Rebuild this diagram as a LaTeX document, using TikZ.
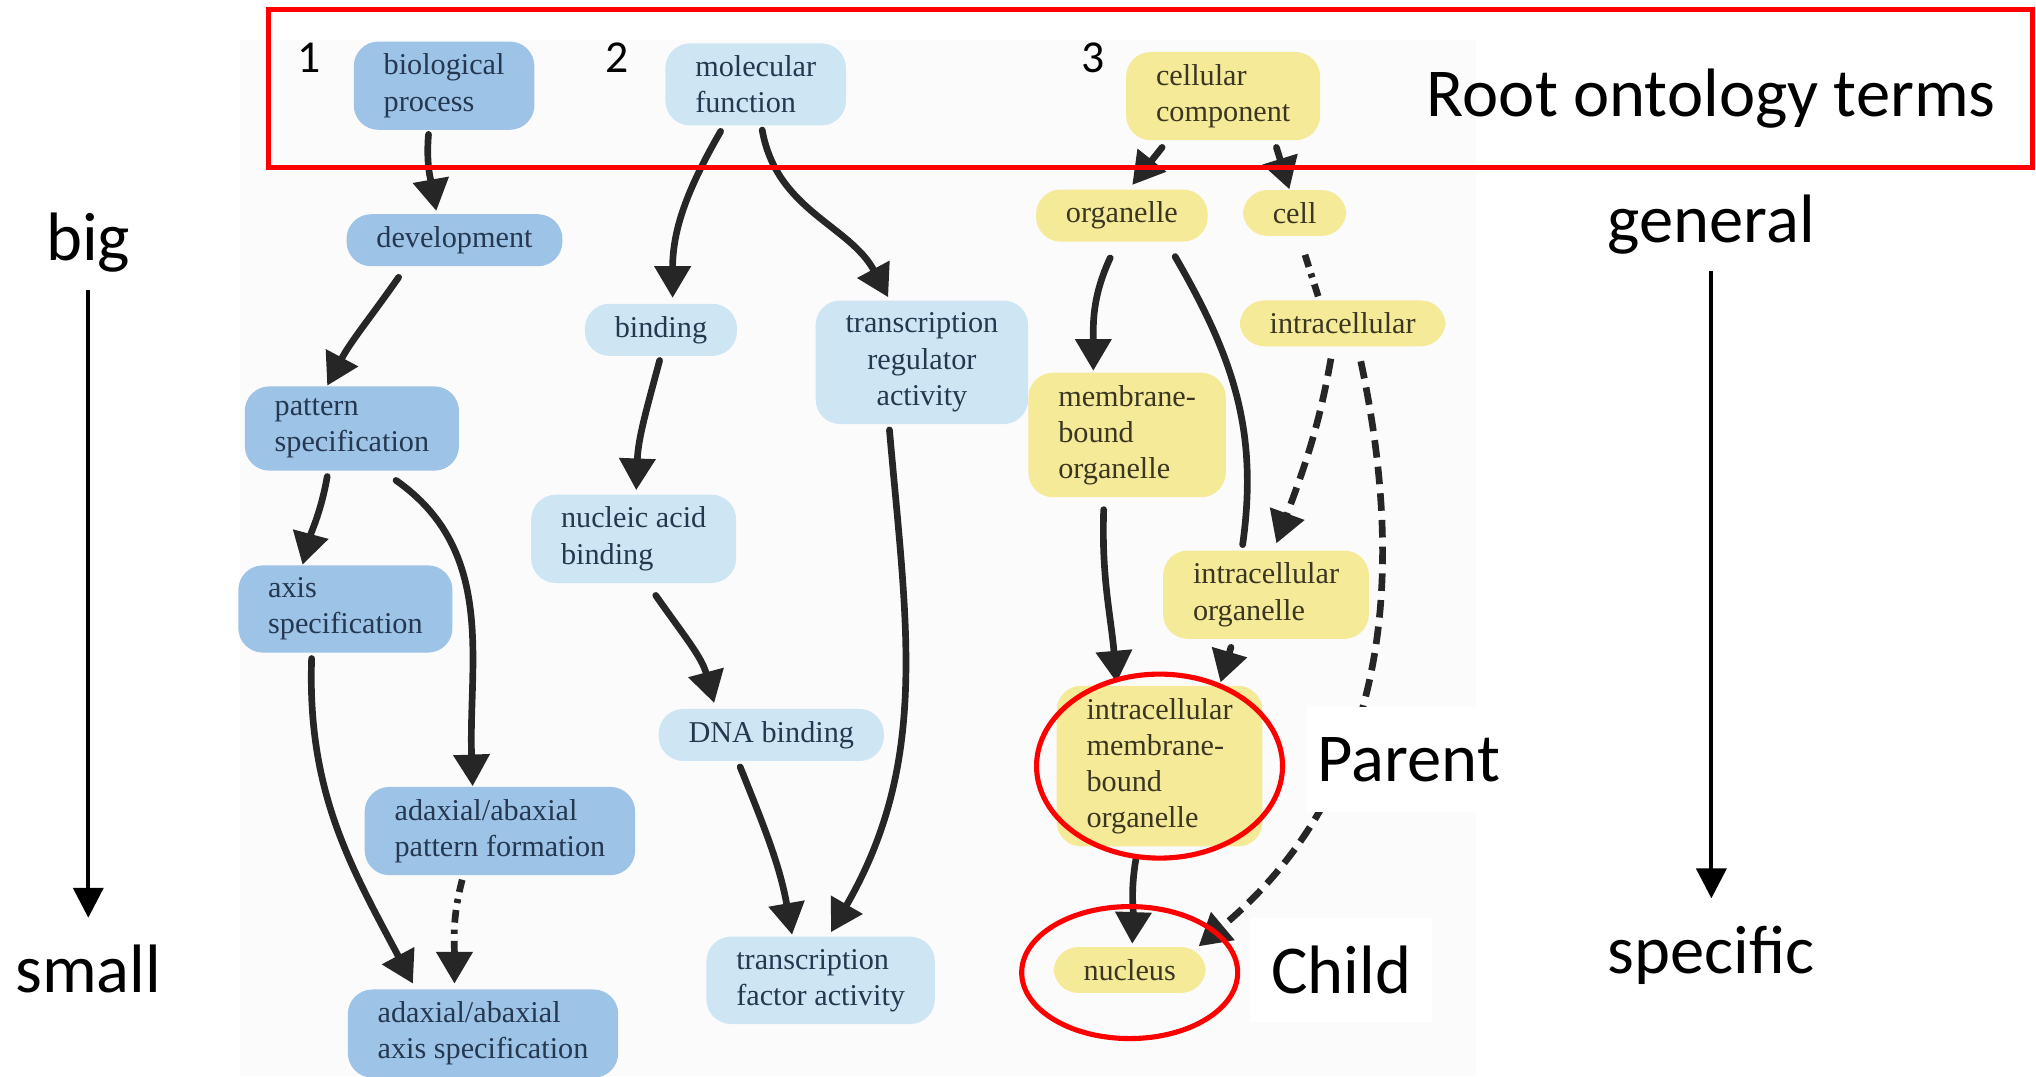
\documentclass[tikz,border=0pt]{standalone}
\usepackage{fontspec}
\setmainfont{Liberation Serif}
\newfontfamily\slidefont{Carlito}
\usepackage{tikz}
\usetikzlibrary{arrows.meta,calc}

\definecolor{bpfill}{RGB}{157,195,230}
\definecolor{mffill}{RGB}{206,230,243}
\definecolor{ccfill}{RGB}{245,234,152}
\definecolor{bptext}{RGB}{38,56,80}
\definecolor{cctext}{RGB}{58,54,34}
\definecolor{edgecol}{RGB}{38,38,38}
\definecolor{insetbg}{RGB}{251,251,252}

\tikzset{
  term/.style={rounded corners=7pt, inner xsep=8.5pt, inner ysep=3.5pt, align=left,
    font=\fontsize{8.6}{10.3}\selectfont},
  bpterm/.style={term, fill=bpfill, text=bptext},
  mfterm/.style={term, fill=mffill, text=bptext},
  ccterm/.style={term, fill=ccfill, text=cctext},
  link/.style={line width=1.9pt, draw=edgecol},
  isa/.style={link, line cap=round, -{Triangle[width=10pt,length=9pt]}},
  dashdot/.style={link, dash pattern=on 3.6pt off 2pt on 1.2pt off 2pt},
  regul/.style={dashdot, -{Triangle[width=10pt,length=9pt]}},
  partof/.style={link, dash pattern=on 5pt off 2.6pt, -{Triangle[width=10pt,length=9pt]}},
  slidelbl/.style={font=\slidefont\fontsize{19.5}{23}\selectfont, inner sep=0pt, anchor=base},
  numlbl/.style={font=\slidefont\fontsize{13}{15}\selectfont, inner sep=0pt, anchor=base},
  sidearrow/.style={line width=1.1pt, -{Triangle[width=8.5pt,length=8.5pt]}},
  redmark/.style={draw=red, line width=1.45pt}
}

\begin{document}
\begin{tikzpicture}[x=0.012985cm, y=0.012985cm]
    \useasboundingbox (0,0) rectangle (1568,-829);

    % Background of the GO excerpt
    \fill[insetbg] (185,-31) rectangle (1137,-829);

    % Root terms
    \node[bpterm] (bp) at (342,-66) {biological\\process};
    \node[mfterm] (mf) at (582,-65) {molecular\\function};
    \node[ccterm] (cc) at (942,-74) {cellular\\component};

    % Biological process branch
    \node[bpterm] (dev) at (350,-185) {development};
    \node[bpterm] (pat) at (271,-330) {pattern\\specification};
    \node[bpterm] (axis) at (266,-469) {axis\\specification};
    \node[bpterm] (apf) at (385,-640) {adaxial/abaxial\\pattern formation};
    \node[bpterm] (aas) at (372,-796) {adaxial/abaxial\\axis specification};

    % Molecular function branch
    \node[mfterm] (bind) at (509,-254) {binding};
    \node[mfterm, align=center] (tra) at (710,-279) {transcription\\regulator\\activity};
    \node[mfterm] (nab) at (488,-415) {nucleic acid\\binding};
    \node[mfterm] (dna) at (594,-566) {DNA binding};
    \node[mfterm] (tfa) at (632,-755) {transcription\\factor activity};

    % Cellular component branch
    \node[ccterm] (org) at (864,-166) {organelle};
    \node[ccterm] (cell) at (997,-164) {cell};
    \node[ccterm] (intra) at (1034,-249) {intracellular};
    \node[ccterm] (mbo) at (868,-335) {membrane-\\bound\\organelle};
    \node[ccterm] (io) at (975,-458) {intracellular\\organelle};
    \node[ccterm] (imbo) at (893,-590) {intracellular\\membrane-\\bound\\organelle};
    \node[ccterm] (nuc) at (870,-747) {nucleus};

    % Edges, biological process
    \draw[isa] ($(bp.south)+(-12,-3)$) to[out=-95,in=100] ($(dev.north)+(-14,2)$);
    \draw[isa] ($(dev.south)+(-43,-8)$) to[out=-125,in=62] ($(pat.north)+(-19,0)$);
    \draw[isa] ($(pat.south)+(-19,-4)$) to[out=-100,in=75] ($(axis.north)+(-33,0)$);
    \draw[isa] ($(pat.south)+(34,-7)$) to[out=-35,in=92] ($(apf.north)+(-21,0)$);
    \draw[isa] ($(axis.south)+(-26,-4)$) to[out=-92,in=118] ($(aas.north)+(-54,4)$);
    \draw[regul] ($(apf.south)+(-29,-3)$) to[out=-105,in=90] ($(aas.north)+(-22,4)$);

    % Edges, molecular function
    \draw[isa] ($(mf.south)+(-27,-4)$) to[out=-120,in=90] ($(bind.north)+(9,4)$);
    \draw[isa] ($(mf.south)+(5,-3)$) to[out=-80,in=118] ($(tra.north)+(-26,2)$);
    \draw[isa] ($(bind.south)+(-1,-3)$) to[out=-105,in=88] ($(nab.north)+(2,3)$);
    \draw[isa] ($(nab.south)+(17,-9)$) to[out=-55,in=105] ($(dna.north)+(-44,4)$);
    \draw[isa] ($(dna.south)+(-24,-4)$) to[out=-68,in=100] ($(tfa.north)+(-22,1)$);
    \draw[isa] ($(tra.south)+(-25,-4)$) to[out=-85,in=60] ($(tfa.north)+(8,3)$);

    % Edges, cellular component
    \draw[isa] ($(cc.south)+(-47,-5)$) -- ($(org.north)+(8,3)$);
    \draw[isa] ($(cc.south)+(41,-5)$) -- ($(cell.north)+(-4,0)$);
    \draw[isa] ($(org.south)+(-9,-12)$) to[out=-115,in=90] ($(mbo.north)+(-26,1)$);
    \draw[link, line cap=round] ($(org.south)+(41,-11)$) to[out=-60,in=82] ($(io.north)+(-18,4)$);
    \draw[dashdot] ($(cell.south)+(8,-14)$) -- ($(intra.north)+(-18,0)$);
    \draw[partof] ($(intra.south)+(-9,-9)$) to[out=-100,in=70] ($(io.north)+(8,5)$);
    \draw[partof] ($(intra.south)+(14,-11)$) to[out=-78,in=40] ($(nuc.north east)+(-6,0)$);
    \draw[isa] ($(mbo.south)+(-18,-9)$) to[out=-92,in=95] ($(imbo.north)+(-33,2)$);
    \draw[isa] ($(io.south)+(-27,-6)$) -- ($(imbo.north)+(47,2)$);
    \draw[isa] ($(imbo.south)+(-18,-8)$) to[out=-100,in=88] ($(nuc.north)+(2,2)$);

    % Numbers of the three ontologies
    \node[numlbl] (n1) at (238,-56) {1};
    \node[numlbl] (n2) at (475,-56) {2};
    \node[numlbl] (n3) at (842,-56) {3};

    % Slide labels
    \node[slidelbl] (root) at (1318,-90) {Root ontology terms};
    \node[slidelbl] (general) at (1318,-187) {general};
    \node[slidelbl] (specific) at (1318,-750) {specific};
    \node[slidelbl] (big) at (68,-201) {big};
    \node[slidelbl] (small) at (68,-764) {small};
    \node[slidelbl, fill=white, inner xsep=3pt, inner ysep=8.6pt] (parent) at (1085,-602) {Parent};
    \node[slidelbl, fill=white, inner xsep=6pt, inner ysep=8pt] (child) at (1033,-765) {Child};

    % Direction arrows
    \draw[sidearrow, shorten <=4.6pt, shorten >=7.4pt] (big.south) -- (small.north);
    \draw[sidearrow, shorten <=4.4pt, shorten >=7.8pt] (general.south) -- (specific.north);

    % Red marks
    \draw[redmark] (207,-7) rectangle (1565,-129);
    \draw[redmark] (imbo.center) ellipse [x radius=1.23cm, y radius=0.92cm];
    \draw[redmark] ($(nuc.center)+(0,-2)$) ellipse [x radius=1.08cm, y radius=0.66cm];
\end{tikzpicture}
\end{document}
